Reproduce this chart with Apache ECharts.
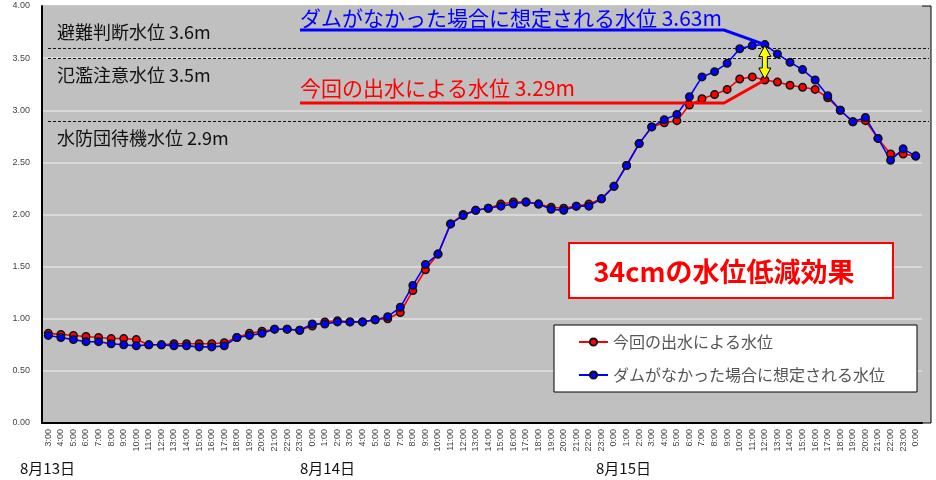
<!DOCTYPE html>
<html>
<head>
<meta charset="utf-8">
<script src="https://cdn.jsdelivr.net/npm/echarts@6/dist/echarts.min.js"></script>
<style>
  html, body { margin: 0; padding: 0; background: #fff; }
  #chart { width: 936px; height: 480px; }
</style>
</head>
<body>
<div id="chart"></div>
<script>
// 時刻（8/13 3:00 ～ 8/16 0:00）
const hours = [
  '3:00','4:00','5:00','6:00','7:00','8:00','9:00','10:00','11:00','12:00','13:00','14:00','15:00','16:00','17:00','18:00','19:00','20:00','21:00','22:00','23:00',
  '0:00','1:00','2:00','3:00','4:00','5:00','6:00','7:00','8:00','9:00','10:00','11:00','12:00','13:00','14:00','15:00','16:00','17:00','18:00','19:00','20:00','21:00','22:00','23:00',
  '0:00','1:00','2:00','3:00','4:00','5:00','6:00','7:00','8:00','9:00','10:00','11:00','12:00','13:00','14:00','15:00','16:00','17:00','18:00','19:00','20:00','21:00','22:00','23:00',
  '0:00'
]
// 今回の出水による水位
const actualLevel = [
  0.86, 0.85, 0.84, 0.83, 0.82, 0.81, 0.81, 0.80, 0.75, 0.75, 0.76, 0.76, 0.76, 0.76, 0.77, 0.82, 0.86, 0.88, 0.90, 0.90, 0.89,
  0.93, 0.97, 0.98, 0.97, 0.97, 0.99, 1.00, 1.06, 1.27, 1.47, 1.62, 1.91, 2.00, 2.04, 2.06, 2.10, 2.12, 2.12, 2.10, 2.07, 2.06, 2.08, 2.10, 2.15,
  2.27, 2.47, 2.68, 2.84, 2.88, 2.90, 3.05, 3.11, 3.15, 3.20, 3.30, 3.32, 3.29, 3.27, 3.24, 3.22, 3.20, 3.12, 3.00, 2.89, 2.90, 2.73, 2.58, 2.58,
  2.56
]
// ダムがなかった場合に想定される水位
const noDamLevel = [
  0.84, 0.82, 0.80, 0.78, 0.78, 0.76, 0.75, 0.74, 0.75, 0.75, 0.74, 0.74, 0.73, 0.73, 0.74, 0.82, 0.84, 0.86, 0.90, 0.90, 0.89,
  0.95, 0.95, 0.97, 0.97, 0.97, 0.99, 1.02, 1.11, 1.32, 1.52, 1.62, 1.91, 1.99, 2.04, 2.06, 2.08, 2.10, 2.12, 2.10, 2.05, 2.04, 2.08, 2.08, 2.15,
  2.27, 2.47, 2.68, 2.84, 2.91, 2.96, 3.13, 3.32, 3.37, 3.45, 3.59, 3.62, 3.63, 3.54, 3.46, 3.39, 3.29, 3.14, 3.00, 2.89, 2.93, 2.73, 2.52, 2.63,
  2.56
]
const seriesNames = ['今回の出水による水位', 'ダムがなかった場合に想定される水位']
const thresholds = [3.6, 3.5, 2.9]
const thresholdNames = ['避難判断水位 3.6m', '氾濫注意水位 3.5m', '水防団待機水位 2.9m']
const dayLabels = ['8月13日', '8月14日', '8月15日']
const peakIndex = 57 // 8/15 12:00
const noDamCaption = 'ダムがなかった場合に想定される水位 3.63m'
const actualCaption = '今回の出水による水位 3.29m'
const effectCaption = '34cmの水位低減効果'

const JP = '"Noto Sans CJK JP", sans-serif'
const chart = echarts.init(document.getElementById('chart'))

chart.setOption({
  animation: false,
  grid: { left: 42, right: 14, top: 6, bottom: 57, show: false },
  legend: {
    data: seriesNames,
    orient: 'vertical',
    left: 554,
    top: 325,
    backgroundColor: '#fff',
    borderColor: '#000',
    borderWidth: 1,
    borderRadius: 0,
    padding: [7, 32, 7, 24],
    itemGap: 13,
    itemWidth: 29,
    itemHeight: 9,
    textStyle: { fontSize: 16, color: '#555', fontFamily: JP, lineHeight: 20 }
  },
  xAxis: {
    type: 'category',
    data: hours,
    axisLine: { lineStyle: { color: '#000', width: 2 } },
    axisTick: { show: false },
    axisLabel: { interval: 0, rotate: 90, fontSize: 9, color: '#444', margin: 6, fontFamily: 'Liberation Sans' },
    splitLine: { show: false }
  },
  yAxis: {
    type: 'value',
    min: 0,
    max: 4,
    interval: 0.5,
    axisLine: { show: true, lineStyle: { color: '#000', width: 2 } },
    axisTick: { show: false },
    axisLabel: { fontSize: 9, color: '#444', margin: 12, fontFamily: 'Liberation Sans', formatter: v => v.toFixed(2) },
    splitLine: { lineStyle: { color: '#e2e2e2', width: 1.5 } }
  },
  series: [
    {
      name: seriesNames[0],
      type: 'line',
      data: actualLevel,
      symbol: 'circle',
      symbolSize: 7.5,
      lineStyle: { color: '#ff0000', width: 1.6 },
      itemStyle: { color: '#ff0000', borderColor: '#111', borderWidth: 1.5 }
    },
    {
      name: seriesNames[1],
      type: 'line',
      data: noDamLevel,
      symbol: 'circle',
      symbolSize: 7.5,
      lineStyle: { color: '#0000ff', width: 1.6 },
      itemStyle: { color: '#0000ff', borderColor: '#111', borderWidth: 1.5 }
    }
  ]
})

// 注記（位置は軸のスケールから計算）
const hi = chart.convertToPixel({ gridIndex: 0 }, [peakIndex, noDamLevel[peakIndex]])
const lo = chart.convertToPixel({ gridIndex: 0 }, [peakIndex, actualLevel[peakIndex]])
const labelOffset = [-16, 17, 17]

const graphics = [
  {
    type: 'rect', z: -5, silent: true,
    shape: { x: 42, y: 6, width: 889, height: 417 },
    style: { fill: '#c0c0c0', stroke: '#000', lineWidth: 1 }
  }
]
thresholds.forEach((v, i) => {
  const y = Math.round(chart.convertToPixel({ yAxisIndex: 0 }, v)) + 0.5
  graphics.push({
    type: 'line', z: 1, silent: true,
    shape: { x1: 48, y1: y, x2: 929, y2: y },
    style: { stroke: '#111', lineWidth: 1, lineDash: [3, 2] }
  })
  graphics.push({
    type: 'text', z: 1, silent: true,
    x: 57, y: y + labelOffset[i],
    style: { text: thresholdNames[i], fontSize: 18, fill: '#111', fontFamily: JP, verticalAlign: 'middle' }
  })
})
// 吹き出し
graphics.push(
  {
    type: 'text', z: 20, x: 300, y: 18,
    style: { text: noDamCaption, fontSize: 21, fill: '#0000ff', fontFamily: JP, verticalAlign: 'middle' }
  },
  {
    type: 'polyline', z: 20,
    shape: { points: [[300, 30], [724, 30], hi] },
    style: { stroke: '#0000ff', lineWidth: 3, fill: null }
  },
  {
    type: 'text', z: 20, x: 300, y: 88,
    style: { text: actualCaption, fontSize: 21, fill: '#ff0000', fontFamily: JP, verticalAlign: 'middle' }
  },
  {
    type: 'polyline', z: 20,
    shape: { points: [[300, 103], [724, 103], lo] },
    style: { stroke: '#ff0000', lineWidth: 3, fill: null }
  }
)
// 黄色の両矢印
const cx = hi[0], t = hi[1] + 1, b = lo[1] - 1
graphics.push({
  type: 'polygon', z: 30,
  shape: {
    points: [
      [cx, t], [cx + 6, t + 11], [cx + 2.5, t + 11], [cx + 2.5, b - 11], [cx + 6, b - 11],
      [cx, b], [cx - 6, b - 11], [cx - 2.5, b - 11], [cx - 2.5, t + 11], [cx - 6, t + 11]
    ]
  },
  style: { fill: '#ffff00', stroke: '#000', lineWidth: 1 }
})
// 低減効果の枠
graphics.push({
  type: 'group', z: 20,
  children: [
    {
      type: 'rect',
      shape: { x: 569, y: 243, width: 324, height: 55 },
      style: { fill: '#fff', stroke: '#ff0000', lineWidth: 2 }
    },
    {
      type: 'text', x: 724, y: 272,
      style: { text: effectCaption, fontSize: 27, fontWeight: 'bold', fill: '#ff0000', fontFamily: JP, align: 'center', verticalAlign: 'middle' }
    }
  ]
})
// 日付
const dayX = [20, 300, 596]
dayLabels.forEach((d, i) => {
  graphics.push({
    type: 'text', x: dayX[i], y: 468,
    style: { text: d, fontSize: 15, fill: '#111', fontFamily: JP, verticalAlign: 'middle' }
  })
})

chart.setOption({ graphic: graphics })
</script>
</body>
</html>
